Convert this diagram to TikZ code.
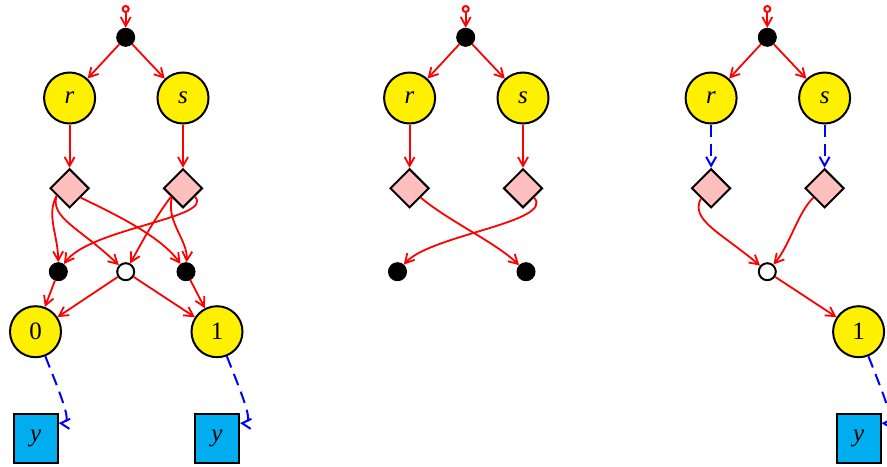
\documentclass[tikz,border=0pt]{standalone}
\usepackage{fontspec}
\setmainfont{Liberation Serif}
\usetikzlibrary{arrows.meta,shapes.geometric}
\definecolor{varyellow}{RGB}{255,240,0}
\definecolor{factpink}{RGB}{255,191,191}
\definecolor{obsblue}{RGB}{0,174,239}
\begin{document}
\begin{tikzpicture}[x=0.5pt,y=-0.5pt,
  lbl/.style={font=\fontsize{12.5}{14}\selectfont},
  var/.style={circle,draw,line width=1pt,fill=varyellow,minimum size=25.5pt,inner sep=0pt,lbl},
  fact/.style={diamond,draw,line width=1pt,fill=factpink,minimum size=19.5pt,inner sep=0pt},
  jdot/.style={circle,draw,fill=black,line width=0.5pt,minimum size=9pt,inner sep=0pt},
  odot/.style={circle,draw,fill=white,line width=1pt,minimum size=8.5pt,inner sep=0pt},
  init/.style={circle,draw=red,line width=1pt,minimum size=3pt,inner sep=0pt},
  obs/.style={rectangle,draw,line width=1pt,fill=obsblue,minimum width=22pt,minimum height=24.5pt,inner sep=0pt,lbl},
  flow/.style={draw=red,line width=0.9pt,-{Straight Barb[length=4.5pt,width=5pt]}},
  emit/.style={draw=blue,line width=1pt,dash pattern=on 6pt off 3.5pt,-{Straight Barb[length=4.5pt,width=5pt]}},
]
\useasboundingbox (0,0) rectangle (887,466);

% ---------- left graph ----------
\node[init] (Li) at (125.7,9) {};
\node[jdot] (Ld) at (125.7,37.3) {};
\node[var] (Lr) at (69.6,98) {\textit{r}};
\node[var] (Ls) at (183,98) {\textit{s}};
\node[fact] (Lpr) at (69.6,188.3) {};
\node[fact] (Lps) at (183,188.3) {};
\node[jdot] (La) at (58.3,271.7) {};
\node[odot] (Lo) at (125.7,271.7) {};
\node[jdot] (Lb) at (186,271.7) {};
\node[var] (L0) at (35.5,331.7) {0};
\node[var] (L1) at (217,331.7) {1};
\node[obs] (Ly0) at (35.7,438) {\textit{y}};
\node[obs] (Ly1) at (217,438) {\textit{y}};

\draw[flow] (Li) -- (Ld);
\draw[flow] (Ld) -- (Lr);
\draw[flow] (Ld) -- (Ls);
\draw[flow] (Lr.south) -- (Lpr.north);
\draw[flow] (Ls.south) -- (Lps.north);
\draw[flow] (Lpr.210) .. controls (46,215) and (58,235) .. (La);
\draw[flow] (Lpr.210) .. controls (50,218) and (80,228) .. (Lo);
\draw[flow] (Lpr.-40) .. controls (110,212) and (160,235) .. (Lb);
\draw[flow] (Lps.215) .. controls (155,218) and (143,240) .. (Lo);
\draw[flow] (Lps.220) .. controls (166,222) and (188,240) .. (Lb);
\draw[flow] (Lps.-35) .. controls (215,218) and (90,228) .. (La);
\draw[flow] (La) -- (L0);
\draw[flow] (Lo) -- (L0);
\draw[flow] (Lo) -- (L1);
\draw[flow] (Lb) -- (L1);
\draw[emit] (L0) .. controls (66,408) and (72,424) .. (Ly0.33);
\draw[emit] (L1) .. controls (247.5,408) and (253.5,424) .. (Ly1.33);

% ---------- middle graph ----------
\node[init] (Mi) at (465.7,9) {};
\node[jdot] (Md) at (465.7,37.3) {};
\node[var] (Mr) at (409.6,98) {\textit{r}};
\node[var] (Ms) at (523,98) {\textit{s}};
\node[fact] (Mpr) at (409.6,188.3) {};
\node[fact] (Mps) at (523,188.3) {};
\node[jdot] (Ma) at (397.5,271.7) {};
\node[jdot] (Mb) at (526,271.7) {};

\draw[flow] (Mi) -- (Md);
\draw[flow] (Md) -- (Mr);
\draw[flow] (Md) -- (Ms);
\draw[flow] (Mr.south) -- (Mpr.north);
\draw[flow] (Ms.south) -- (Mps.north);
\draw[flow] (Mpr.-40) .. controls (450,222) and (495,242) .. (Mb);
\draw[flow] (Mps.-40) .. controls (555,222) and (430,235) .. (Ma);

% ---------- right graph ----------
\node[init] (Ri) at (767.3,9) {};
\node[jdot] (Rd) at (767.3,37.3) {};
\node[var] (Rr) at (711.1,98) {\textit{r}};
\node[var] (Rs) at (824.6,98) {\textit{s}};
\node[fact] (Rpr) at (711.1,188.3) {};
\node[fact] (Rps) at (824.6,188.3) {};
\node[odot] (Ro) at (767.3,271.7) {};
\node[var] (R1) at (858.6,331.7) {1};
\node[obs] (Ry) at (858.6,438) {\textit{y}};

\draw[flow] (Ri) -- (Rd);
\draw[flow] (Rd) -- (Rr);
\draw[flow] (Rd) -- (Rs);
\draw[emit] (Rr.south) -- (Rpr.north);
\draw[emit] (Rs.south) -- (Rps.north);
\draw[flow] (Rpr.225) .. controls (690,220) and (720,232) .. (Ro);
\draw[flow] (Rps.220) .. controls (798,212) and (790,245) .. (Ro);
\draw[flow] (Ro) -- (R1);
\draw[emit] (R1) .. controls (889,408) and (895,424) .. (Ry.33);
\end{tikzpicture}
\end{document}
